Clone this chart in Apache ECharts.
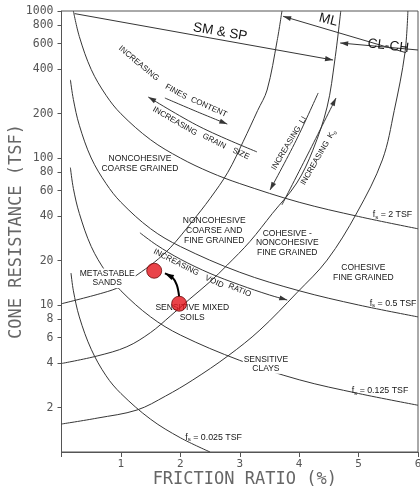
<!DOCTYPE html>
<html>
<head>
<meta charset="utf-8">
<script src="https://cdn.jsdelivr.net/npm/echarts@6/dist/echarts.min.js"></script>
<style>
  html, body { margin: 0; padding: 0; background: #fff; }
  #chart { width: 420px; height: 491px; }
</style>
</head>
<body>
<div id="chart"></div>
<script>
// CPT soil classification chart: friction ratio Rf (%) against cone resistance qc (TSF).
// Every curve is a list of [Rf, qc] pairs.

const yTickValues = [2, 4, 6, 8, 10, 20, 40, 60, 80, 100, 200, 400, 600, 800, 1000];

// Constant sleeve friction lines
const fs2Tsf = [[0.2, 1000], [0.3, 670], [0.5, 400], [0.75, 267], [1, 200], [1.5, 133], [2, 100], [2.5, 80], [3, 67], [4, 50], [5, 40], [6, 33]];
const fs05Tsf = [[0.15, 340], [0.2, 250], [0.3, 167], [0.5, 100], [0.75, 67], [1, 50], [1.5, 33], [2, 25], [3, 16.7], [4, 12.5], [5, 10], [6, 8.3]];
const fs0125Tsf = [[0.15, 86], [0.2, 62], [0.3, 42], [0.5, 25], [0.75, 16.7], [1, 12.5], [1.5, 8.3], [2, 6.25], [3, 4.2], [4, 3.1], [5, 2.5], [6, 2.08]];
const fs0025Tsf = [[0.16, 16.5], [0.2, 12.5], [0.3, 8.3], [0.5, 5], [0.75, 3.3], [1, 2.5], [1.5, 1.67], [2, 1.25], [2.5, 1]];

// Zone boundaries
const boundaryCoarse = [[0, 10.2], [0.7, 12.1], [1.0, 13.4], [1.27, 16], [1.56, 19.5], [1.83, 24.5], [2.2, 37], [2.5, 53], [2.8, 80], [3.06, 130], [3.3, 210], [3.46, 290], [3.63, 630], [3.71, 1000]];
const boundaryMixed = [[0, 4.0], [0.6, 4.5], [1.1, 5.2], [1.5, 6.5], [1.83, 8.4], [2.16, 11], [2.5, 14.4], [2.79, 18.7], [3.17, 27], [3.55, 42], [3.96, 67.6], [4.23, 113], [4.47, 222], [4.6, 464], [4.7, 1000]];
const boundaryFine = [[0, 1.55], [0.6, 1.7], [1.27, 1.93], [1.75, 2.4], [2.21, 3.09], [2.8, 4.5], [3.34, 6.76], [3.96, 12.1], [4.47, 20.2], [4.97, 42.3], [5.4, 97], [5.6, 210], [5.78, 518], [5.83, 1000]];

// Test points and the trend between them
const soilPoints = [[1.56, 17.1], [1.98, 10.2]];
const shiftPath = [[1.98, 11.4], [1.94, 13.7], [1.86, 15.5], [1.74, 16.4]];

// Annotation arrows
const arrowFines = [[1.74, 256], [2.25, 209], [2.79, 170]];
const arrowGrain = [[3.29, 110], [2.33, 163], [1.46, 260]];
const arrowVoidRatio = [[1.32, 31], [1.6, 25.6], [2, 20.5], [2.5, 16.4], [3, 13.7], [3.5, 11.7], [3.8, 10.8]];
const arrowLI = [[4.32, 277], [3.95, 132], [3.51, 60.6]];
const arrowK0 = [[3.71, 48], [4.18, 113], [4.62, 256]];
const arrowSmSp = [[0.22, 960], [4.57, 464]];
const arrowMl = [[3.73, 920], [5.8, 520]];
const arrowClCh = [[4.69, 606], [6.0, 543]];

const lg = Math.log10;
const toXY = pts => pts.map(([r, q]) => [r, lg(q)]);

const INK = '#363636';
const TEXT = '#161616';
const MONO = "'DejaVu Sans Mono', monospace";
const SANS = "'Liberation Sans', Arial, sans-serif";

// Arrow definitions: path, which ends carry heads, stroke width, head size
const arrows = [
  { pts: arrowFines, end: true, w: 1, head: 8 },
  { pts: arrowGrain, end: true, w: 1, head: 8 },
  { pts: arrowVoidRatio, end: true, w: 1, head: 8 },
  { pts: arrowLI, end: true, w: 1, head: 8 },
  { pts: arrowK0, end: true, w: 1, head: 8 },
  { pts: arrowSmSp, end: true, w: 1, head: 8 },
  { pts: arrowMl, start: true, w: 1, head: 8 },
  { pts: arrowClCh, start: true, w: 1, head: 8 },
  { pts: shiftPath, end: true, w: 2, head: 9, color: '#000' }
];

// Text placed in data space: [Rf, qc] anchor, rotation in degrees
const texts = [
  { t: 'NONCOHESIVE\nCOARSE GRAINED', at: [1.32, 92] },
  { t: 'NONCOHESIVE\nCOARSE AND\nFINE GRAINED', at: [2.57, 32] },
  { t: 'COHESIVE -\nNONCOHESIVE\nFINE GRAINED', at: [3.8, 26.4] },
  { t: 'COHESIVE\nFINE GRAINED', at: [5.08, 16.6] },
  { t: 'METASTABLE\nSANDS', at: [0.77, 15.2], bg: true },
  { t: 'SENSITIVE MIXED\nSOILS', at: [2.2, 8.9] },
  { t: 'SENSITIVE\nCLAYS', at: [3.44, 3.96], bg: true },
  { t: 'SM & SP', at: [2.67, 720], rot: -10, size: 13.5 },
  { t: 'ML', at: [4.49, 870], rot: -14, size: 13.5 },
  { t: 'CL-CH', at: [5.5, 578], rot: -7, size: 13.5 },
  { t: 'INCREASING', at: [1.3, 440], rot: -40, size: 8 },
  { t: 'FINES', at: [1.93, 282], rot: -29, size: 8 },
  { t: 'CONTENT', at: [2.48, 222], rot: -24, size: 8 },
  { t: 'INCREASING', at: [1.91, 178], rot: -30, size: 8 },
  { t: 'GRAIN', at: [2.57, 130], rot: -27, size: 8 },
  { t: 'SIZE', at: [3.02, 107], rot: -25, size: 8 },
  { t: 'INCREASING', at: [1.93, 19.5], rot: -27, size: 8 },
  { t: 'VOID', at: [2.57, 14.4], rot: -25, size: 8 },
  { t: 'RATIO', at: [3.0, 12.6], rot: -22, size: 8 },
  { t: 'INCREASING  LI', at: [3.83, 126], rot: 59, size: 8 },
  { t: '{n|INCREASING  K}{s|o}', at: [4.32, 101], rot: 60, size: 8 },
  { t: '{n|f}{s|s}{n| = 2 TSF}', at: [5.57, 41], size: 8.8 },
  { t: '{n|f}{s|s}{n| = 0.5 TSF}', at: [5.58, 10.3], size: 8.8 },
  { t: '{n|f}{s|s}{n| = 0.125 TSF}', at: [5.36, 2.6], size: 8.8 },
  { t: '{n|f}{s|s}{n| = 0.025 TSF}', at: [2.56, 1.26], size: 8.8 }
];

function head(tip, from, len) {
  const dx = tip[0] - from[0], dy = tip[1] - from[1];
  const d = Math.hypot(dx, dy) || 1;
  const ux = dx / d, uy = dy / d;
  const bx = tip[0] - ux * len, by = tip[1] - uy * len;
  const hw = len * 0.32;
  return [tip, [bx - uy * hw, by + ux * hw], [bx + uy * hw, by - ux * hw]];
}

function renderNotes(params, api) {
  const children = [];
  arrows.forEach(a => {
    const p = a.pts.map(([r, q]) => api.coord([r, lg(q)]));
    const color = a.color || INK;
    children.push({
      type: 'polyline',
      shape: { points: p, smooth: p.length > 2 ? 0.35 : 0 },
      style: { stroke: color, lineWidth: a.w, fill: null }
    });
    if (a.end) {
      children.push({ type: 'polygon', shape: { points: head(p[p.length - 1], p[p.length - 2], a.head) }, style: { fill: color } });
    }
    if (a.start) {
      children.push({ type: 'polygon', shape: { points: head(p[0], p[1], a.head) }, style: { fill: color } });
    }
  });
  texts.forEach(o => {
    const c = api.coord([o.at[0], lg(o.at[1])]);
    const size = o.size || 8.5;
    children.push({
      type: 'text',
      x: c[0], y: c[1],
      rotation: (o.rot || 0) * Math.PI / 180,
      z2: 10,
      style: {
        text: o.t,
        fontFamily: SANS,
        fontSize: size,
        lineHeight: size + 1.2,
        fill: TEXT,
        align: 'center',
        verticalAlign: 'middle',
        backgroundColor: o.bg ? '#fff' : null,
        padding: o.bg ? [0, 1] : 0,
        rich: {
          n: { fontFamily: SANS, fontSize: size, fill: TEXT },
          s: { fontFamily: SANS, fontSize: size * 0.7, fill: TEXT, padding: [5, 0, 0, 0] }
        }
      }
    });
  });
  return { type: 'group', children };
}

function curve(name, pts) {
  return {
    name, type: 'line', data: toXY(pts), smooth: 0.35, showSymbol: false, silent: true,
    lineStyle: { color: INK, width: 1 }, z: 2
  };
}

const tickLogs = yTickValues.map(lg);

const chart = echarts.init(document.getElementById('chart'));
chart.setOption({
  animation: false,
  backgroundColor: '#fff',
  grid: {
    left: 61.5, right: 2, top: 11, bottom: 39,
    containLabel: false, outerBoundsMode: 'none',
    show: true, borderColor: '#555', borderWidth: 1
  },
  xAxis: {
    type: 'value', min: 0, max: 6, interval: 1,
    name: 'FRICTION RATIO (%)', nameLocation: 'middle', nameGap: 19, nameMoveOverlap: false,
    nameTextStyle: { fontFamily: MONO, fontSize: 17, color: '#666', verticalAlign: 'top', padding: [0, 0, 0, 10] },
    axisLine: { lineStyle: { color: '#555', width: 1 } },
    axisTick: { show: true, length: 5, lineStyle: { color: '#555' } },
    axisLabel: { formatter: v => (v === 0 ? '' : String(v)), fontFamily: MONO, fontSize: 11, color: '#555', margin: 7 },
    splitLine: { show: false }
  },
  yAxis: {
    type: 'value', min: 0, max: 3,
    name: 'CONE RESISTANCE (TSF)', nameLocation: 'middle', nameRotate: 90, nameGap: 36, nameMoveOverlap: false,
    nameTextStyle: { fontFamily: MONO, fontSize: 17, color: '#666' },
    axisLine: { show: true, lineStyle: { color: '#555', width: 1 } },
    axisTick: { show: true, length: 4, customValues: tickLogs, lineStyle: { color: '#555' } },
    axisLabel: { customValues: tickLogs, formatter: v => String(Math.round(Math.pow(10, v))), fontFamily: MONO, fontSize: 11.5, color: '#555', margin: 8 },
    splitLine: { show: false }
  },
  series: [
    curve('fs 2 TSF', fs2Tsf),
    curve('fs 0.5 TSF', fs05Tsf),
    curve('fs 0.125 TSF', fs0125Tsf),
    curve('fs 0.025 TSF', fs0025Tsf),
    curve('coarse boundary', boundaryCoarse),
    curve('mixed boundary', boundaryMixed),
    curve('fine boundary', boundaryFine),
    {
      type: 'custom', coordinateSystem: 'cartesian2d', silent: true, clip: false, z: 5,
      data: [[0, 0]], renderItem: renderNotes
    },
    {
      name: 'soil points', type: 'scatter', data: toXY(soilPoints), symbolSize: 15, z: 8,
      itemStyle: { color: '#e3141b', borderColor: '#6b0a0a', borderWidth: 1 }
    }
  ]
});
</script>
</body>
</html>
